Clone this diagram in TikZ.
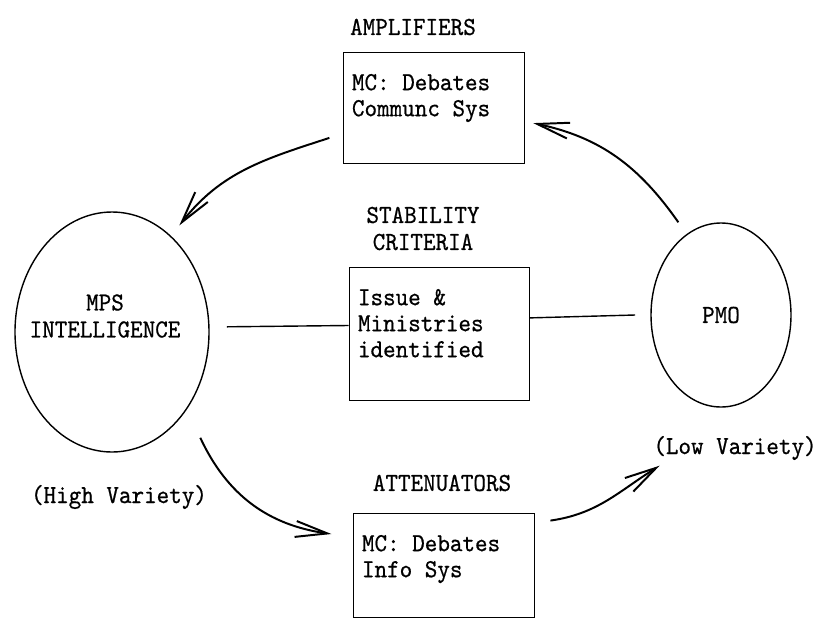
\documentclass[tikz,border=0pt]{standalone}
\usepackage{fontspec}
\newfontfamily\dotfont{lmmono10-regular}[Extension=.otf,FakeStretch=0.92,FakeBold=0.6]
\usetikzlibrary{arrows.meta,shapes.geometric}
\tikzset{box/.style={draw=black,line width=0.6pt,inner xsep=0.225cm,inner ysep=0.55cm,font=\dotfont\fontsize{18.5}{18.5}\selectfont},oval/.style={draw=black,ellipse,line width=1pt,inner sep=0pt,font=\dotfont\fontsize{18.5}{19.2}\selectfont},head/.style={align=center,inner sep=1pt,font=\dotfont\fontsize{18.5}{19.2}\selectfont},arr/.style={-{Straight Barb[length=8mm,width=4mm]},line width=1.4pt,draw=black},link/.style={line width=1pt,draw=black}}

\begin{document}
\begin{tikzpicture}
\useasboundingbox (0,0) rectangle (20.475,-15.5);
\node[oval,minimum width=4.85cm,minimum height=6cm] (mps) at (2.8,-8.3) {};
\node[head] (mpslabel) at (2.625,-7.9) {MPS\\INTELLIGENCE};
\node[head] (highvar) at (2.975,-12.425) {(High Variety)};
\node[oval,minimum width=3.5cm,minimum height=4.6cm] (pmo) at (18.025,-7.875) {PMO};
\node[head] (lowvar) at (18.375,-11.2) {(Low Variety)};
\node[head] (amphead) at (10.325,-0.675) {AMPLIFIERS};
\node[box] (amp) at (10.8375,-2.6875) {\parbox[c][1.675cm][t]{4.075cm}{MC: Debates\\Communc Sys}};
\node[head] (stabhead) at (10.575,-5.7125) {STABILITY\\CRITERIA};
\node[box] (stab) at (10.975,-8.3375) {\parbox[c][2.225cm][t]{4.05cm}{Issue \&\\Ministries\\identified}};
\node[head] (atthead) at (11.05,-12.075) {ATTENUATORS};
\node[box] (att) at (11.0875,-14.125) {\parbox[c][1.5cm][t]{4.075cm}{MC: Debates\\Info Sys}};
\draw[link] ([shift={(4.3mm,1.3mm)}]mps.east)--([yshift=2mm]stab.west);
\draw[link] ([yshift=3.9mm]stab.east)--([xshift=-3.8mm]pmo.west);
\draw[arr] ([yshift=4.7mm]pmo.120) to[out=125,in=-12] ([shift={(2.2mm,-3.9mm)}]amp.east);
\draw[arr] ([shift={(-3.3mm,-7.6mm)}]amp.west) to[out=198,in=52] ([shift={(1.9mm,2.75mm)}]mps.58);
\draw[arr] ([shift={(4.5mm,-5.5mm)}]mps.-50) to[out=-65,in=172] ([shift={(-5.3mm,7.75mm)}]att.west);
\draw[arr] ([shift={(4mm,-2mm)}]att.north east) to[out=8,in=-148] ([shift={(2mm,-1mm)}]lowvar.south west);
\end{tikzpicture}
\end{document}
